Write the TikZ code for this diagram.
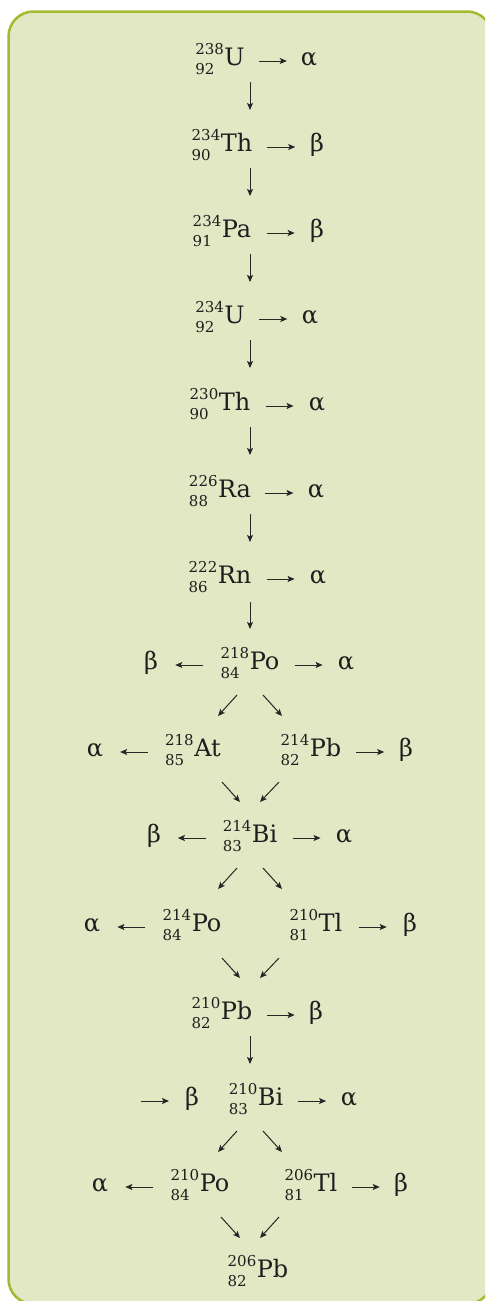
\documentclass[tikz,border=0pt]{standalone}
\usepackage{fontspec}
\setmainfont{DejaVu Serif}
\usetikzlibrary{arrows.meta,calc}
\definecolor{boxfill}{HTML}{E2E8C4}
\definecolor{boxline}{HTML}{A4B92D}
\definecolor{txt}{HTML}{1E1E1E}
\definecolor{arrc}{HTML}{262626}
\newcommand\mainfs{\fontsize{24}{28}\selectfont}
\newcommand\nucfs{\fontsize{15}{15}\selectfont}
\newcommand\nuc[3]{%
  \setbox0=\hbox{\nucfs #1}\setbox2=\hbox{\nucfs #2}%
  \dimen0=\wd0 \ifdim\wd2>\dimen0 \dimen0=\wd2\fi
  \rlap{\raisebox{11pt}{\copy0}}\rlap{\raisebox{-9pt}{\copy2}}\hspace*{\dimen0}\hspace*{0.5pt}#3}
\newcommand\rarr[2]{\draw[arr] ($(#1.base east)!.5!(#2.base west)+(-14,-4)$) -- ($(#1.base east)!.5!(#2.base west)+(14,-4)$);}
\newcommand\larr[2]{\draw[arr] ($(#1.base east)!.5!(#2.base west)+(14,-4)$) -- ($(#1.base east)!.5!(#2.base west)+(-14,-4)$);}
\newcommand\varr[1]{\draw[arr] (#1.base -| vx) ++(0,17) -- ++(0,28);}
\tikzset{
  lbl/.style={inner sep=0pt, anchor=base, text=txt, font=\mainfs},
  arr/.style={draw=arrc, line width=1pt, -{Stealth[length=7pt,width=6pt,inset=1.5pt]}},
  frame/.style={fill=boxfill, draw=boxline, line width=2.5pt, rounded corners=25pt}
}
\begin{document}
\begin{tikzpicture}[x=1pt,y=-1pt]
\useasboundingbox (0,0) rectangle (485,1301);
\fill[white] (0,0) rectangle (485,1301);
\begin{scope}
  \clip (0,0) rectangle (485,1301);
  \draw[frame] (8.5,11.5) rectangle (492,1304);
\end{scope}
\coordinate (vx) at (250,0);
% row 1
\node[lbl] (u238) at (220,65) {\nuc{238}{92}{U}};
\node[lbl] (a1) at (309,65) {α};
\rarr{u238}{a1}
\varr{u238}
% row 2
\node[lbl] (th234) at (222,151) {\nuc{234}{90}{Th}};
\node[lbl] (b2) at (317,151) {β};
\rarr{th234}{b2}
\varr{th234}
% row 3
\node[lbl] (pa234) at (222,237) {\nuc{234}{91}{Pa}};
\node[lbl] (b3) at (317,237) {β};
\rarr{pa234}{b3}
\varr{pa234}
% row 4
\node[lbl] (u234) at (220,323) {\nuc{234}{92}{U}};
\node[lbl] (a4) at (310,323) {α};
\rarr{u234}{a4}
\varr{u234}
% row 5
\node[lbl] (th230) at (220,410) {\nuc{230}{90}{Th}};
\node[lbl] (a5) at (317,410) {α};
\rarr{th230}{a5}
\varr{th230}
% row 6
\node[lbl] (ra226) at (220,497) {\nuc{226}{88}{Ra}};
\node[lbl] (a6) at (316,497) {α};
\rarr{ra226}{a6}
\varr{ra226}
% row 7
\node[lbl] (rn222) at (220,583) {\nuc{222}{86}{Rn}};
\node[lbl] (a7) at (318,583) {α};
\rarr{rn222}{a7}
\draw[arr] (rn222.base -| vx) ++(0,19) -- ++(0,27);
% row 8
\node[lbl] (b8) at (151,669) {β};
\node[lbl] (po218) at (250,669) {\nuc{218}{84}{Po}};
\node[lbl] (a8) at (346,669) {α};
\larr{b8}{po218}
\rarr{po218}{a8}
\draw[arr] (po218.base -| vx) ++(-13,26) -- ++(-19,21);
\draw[arr] (po218.base -| vx) ++(13,26) -- ++(19,21);
% row 9
\node[lbl] (a9) at (95,756) {α};
\node[lbl] (at218) at (193,756) {\nuc{218}{85}{At}};
\node[lbl] (pb214) at (311,756) {\nuc{214}{82}{Pb}};
\node[lbl] (b9) at (406,756) {β};
\larr{a9}{at218}
\rarr{pb214}{b9}
\draw[arr] (at218.base -| vx) ++(-28,26) -- ++(18,20);
\draw[arr] (pb214.base -| vx) ++(29,26) -- ++(-19,20);
% row 10
\node[lbl] (b10) at (154,842) {β};
\node[lbl] (bi214) at (250,842) {\nuc{214}{83}{Bi}};
\node[lbl] (a10) at (344,842) {α};
\larr{b10}{bi214}
\rarr{bi214}{a10}
\draw[arr] (bi214.base -| vx) ++(-13,26) -- ++(-19,21);
\draw[arr] (bi214.base -| vx) ++(13,26) -- ++(19,21);
% row 11
\node[lbl] (a11) at (92,931) {α};
\node[lbl] (po214) at (192,931) {\nuc{214}{84}{Po}};
\node[lbl] (tl210) at (316,931) {\nuc{210}{81}{Tl}};
\node[lbl] (b11) at (410,931) {β};
\larr{a11}{po214}
\rarr{tl210}{b11}
\draw[arr] (po214.base -| vx) ++(-28,27) -- ++(18,20);
\draw[arr] (tl210.base -| vx) ++(29,27) -- ++(-19,20);
% row 12
\node[lbl] (pb210) at (222,1019) {\nuc{210}{82}{Pb}};
\node[lbl] (b12) at (316,1019) {β};
\rarr{pb210}{b12}
\varr{pb210}
% row 13
\coordinate (free13) at (141,1101);
\node[lbl] (b13) at (192,1105) {β};
\node[lbl] (bi210) at (256,1105) {\nuc{210}{83}{Bi}};
\node[lbl] (a13) at (349,1105) {α};
\draw[arr] (free13) -- ++(28,0);
\rarr{bi210}{a13}
\draw[arr] (bi210.base -| vx) ++(-13,26) -- ++(-19,21);
\draw[arr] (bi210.base -| vx) ++(13,26) -- ++(19,21);
% row 14
\node[lbl] (a14) at (100,1191) {α};
\node[lbl] (po210) at (200,1191) {\nuc{210}{84}{Po}};
\node[lbl] (tl206) at (311,1191) {\nuc{206}{81}{Tl}};
\node[lbl] (b14) at (401,1191) {β};
\larr{a14}{po210}
\rarr{tl206}{b14}
\draw[arr] (po210.base -| vx) ++(-29,26) -- ++(19,21);
\draw[arr] (tl206.base -| vx) ++(29,26) -- ++(-19,21);
% row 15
\node[lbl] (pb206) at (258,1277) {\nuc{206}{82}{Pb}};
\end{tikzpicture}
\end{document}
